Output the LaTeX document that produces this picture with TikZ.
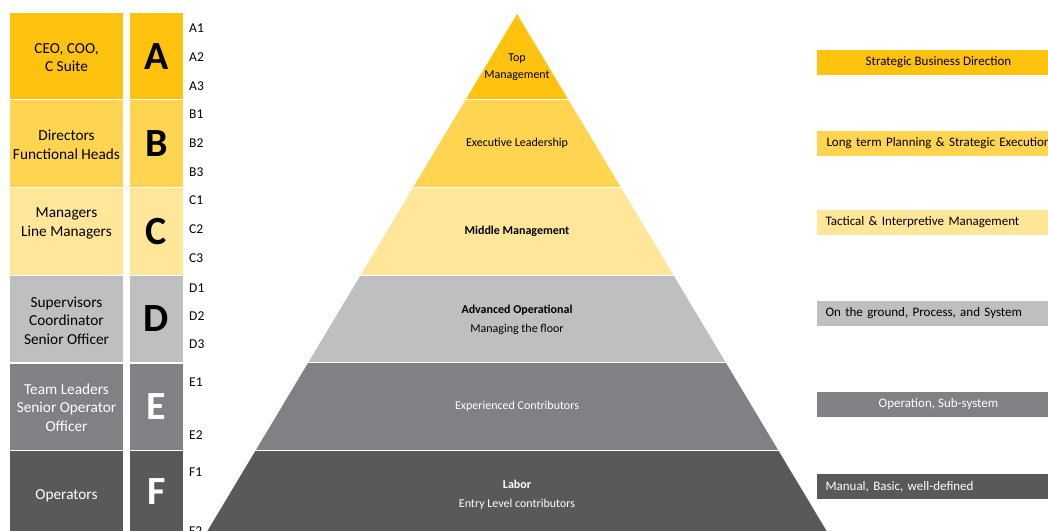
\documentclass[tikz,border=0pt]{standalone}
\usepackage{fontspec}
\setmainfont{Carlito}
\definecolor{colA}{HTML}{FFC20E}
\definecolor{colB}{HTML}{FFD450}
\definecolor{colC}{HTML}{FFE699}
\definecolor{colD}{HTML}{BFBFC1}
\definecolor{colE}{HTML}{808184}
\definecolor{colF}{HTML}{58595B}
\tikzset{
  cell/.style={rectangle, inner sep=0pt, minimum width=113pt, anchor=north west},
  lcell/.style={rectangle, inner sep=0pt, minimum width=53pt, anchor=north west},
  role/.style={inner sep=0pt, align=center, font=\fontsize{15.3}{18.5}\selectfont},
  letter/.style={inner sep=0pt, font=\fontsize{40}{40}\selectfont\bfseries},
  sub/.style={inner sep=0pt, anchor=west, font=\fontsize{13.5}{16}\selectfont},
  ptext/.style={inner sep=0pt, align=center, font=\fontsize{12}{19}\selectfont},
  rbox/.style={rectangle, inner sep=0pt, minimum width=243pt, minimum height=25pt, font=\fontsize{13}{15}\selectfont},
  rboxl/.style={rbox, text width=226pt, align=left},
}
\begin{document}
\begin{tikzpicture}[x=1pt,y=-1pt]
\useasboundingbox (0,0) rectangle (1048,530);
\clip (0,0) rectangle (1048,530);
% left role cells
\node[cell, fill=colA, minimum height=85.8pt] (cA) at (10,13) {};
\node[cell, fill=colB, minimum height=86.4pt] (cB) at (10,100.2) {};
\node[cell, fill=colC, minimum height=86.8pt] (cC) at (10,188.0) {};
\node[cell, fill=colD, minimum height=85.7pt] (cD) at (10,276.2) {};
\node[cell, fill=colE, minimum height=86.2pt] (cE) at (10,363.3) {};
\node[cell, fill=colF, minimum height=90pt] (cF) at (10,450.9) {};
% letter cells
\node[lcell, fill=colA, minimum height=85.8pt] (lA) at (130,13) {};
\node[lcell, fill=colB, minimum height=86.4pt] (lB) at (130,100.2) {};
\node[lcell, fill=colC, minimum height=86.8pt] (lC) at (130,188.0) {};
\node[lcell, fill=colD, minimum height=85.7pt] (lD) at (130,276.2) {};
\node[lcell, fill=colE, minimum height=86.2pt] (lE) at (130,363.3) {};
\node[lcell, fill=colF, minimum height=90pt] (lF) at (130,450.9) {};
% role texts
\node[role] (tA) at (66.5,57.5) {CEO, COO,\\C Suite};
\node[role] (tB) at (66.5,145) {Directors\\Functional Heads};
\node[role] (tC) at (66.5,223.5) {Managers\\Line Managers};
\node[role] (tD) at (66.5,320.5) {Supervisors\\Coordinator\\Senior Officer};
\node[role, text=white] (tE) at (66.5,407.5) {Team Leaders\\Senior Operator\\Officer};
\node[role, text=white] (tF) at (66.5,496) {Operators};
% letters
\node[letter] (xA) at (156.5,57) {A};
\node[letter] (xB) at (156.5,144) {B};
\node[letter] (xC) at (156.5,232) {C};
\node[letter] (xD) at (156.5,319) {D};
\node[letter, text=white] (xE) at (156.5,407) {E};
\node[letter, text=white] (xF) at (156.5,492) {F};
% sub levels
\node[sub] (a1) at (189,28) {A1};
\node[sub] (a2) at (189,57) {A2};
\node[sub] (a3) at (189,86) {A3};
\node[sub] (b1) at (189,114) {B1};
\node[sub] (b2) at (189,143) {B2};
\node[sub] (b3) at (189,172) {B3};
\node[sub] (c1) at (189,200) {C1};
\node[sub] (c2) at (189,229) {C2};
\node[sub] (c3) at (189,258) {C3};
\node[sub] (d1) at (189,288) {D1};
\node[sub] (d2) at (189,316) {D2};
\node[sub] (d3) at (189,344) {D3};
\node[sub] (e1) at (189,382) {E1};
\node[sub] (e2) at (189,435) {E2};
\node[sub] (f1) at (189,472) {F1};
\node[sub] (f2) at (189,531) {F2};
% pyramid
\begin{scope}
\clip (517,14) -- (199,545) -- (835,545) -- cycle;
\fill[colA] (150,0) rectangle (900,98.8);
\fill[colB] (150,100.2) rectangle (900,186.6);
\fill[colC] (150,188.0) rectangle (900,274.8);
\fill[colD] (150,276.2) rectangle (900,361.9);
\fill[colE] (150,363.3) rectangle (900,449.5);
\fill[colF] (150,450.9) rectangle (900,545);
\end{scope}
\node[ptext, font=\fontsize{12}{17}\selectfont] (pA) at (517,67) {Top\\Management};
\node[ptext] (pB) at (517,143.5) {Executive Leadership};
\node[ptext, font=\fontsize{12}{19}\selectfont\bfseries] (pC) at (517,231.5) {Middle Management};
\node[ptext] (pD) at (517,319.5) {\textbf{Advanced Operational}\\Managing the floor};
\node[ptext, text=white] (pE) at (517,406.5) {Experienced Contributors};
\node[ptext, text=white] (pF) at (517,494.5) {\textbf{Labor}\\Entry Level contributors};
% right boxes
\node[rbox, fill=colA] (rA) at (938.5,62.5) {Strategic Business Direction};
\node[rboxl, fill=colB] (rB) at (938.5,143.5) {\hspace{1pt}Long term Planning \& Strategic Execution};
\node[rboxl, fill=colC] (rC) at (938.5,222.5) {Tactical \& Interpretive Management};
\node[rboxl, fill=colD] (rD) at (938.5,313.5) {On the ground, Process, and System};
\node[rbox, fill=colE, text=white] (rE) at (938.5,404.5) {Operation, Sub-system};
\node[rboxl, fill=colF, text=white] (rF) at (938.5,486.5) {Manual, Basic, well-defined};
\end{tikzpicture}
\end{document}
